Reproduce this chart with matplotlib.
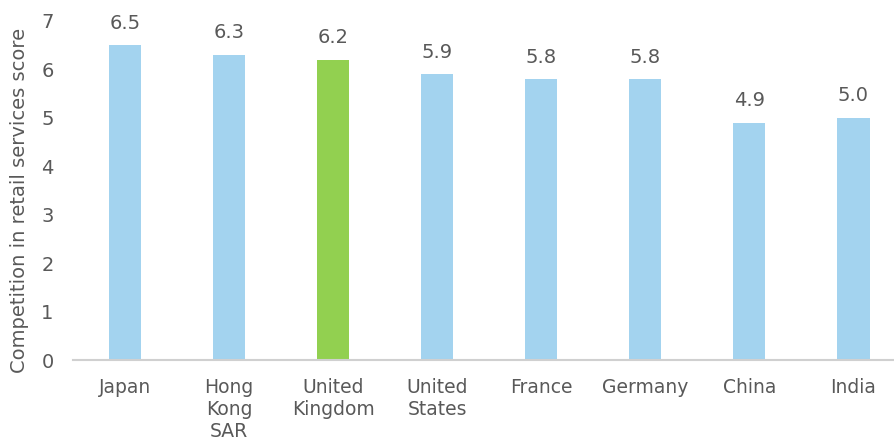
import matplotlib
matplotlib.use("Agg")
import matplotlib.pyplot as plt

categories = ["Japan", "Hong\nKong\nSAR", "United\nKingdom", "United\nStates", "France", "Germany", "China", "India"]
values = [6.5, 6.3, 6.2, 5.9, 5.8, 5.8, 4.9, 5.0]
highlight = "United\nKingdom"

blue = "#A3D3EF"
green = "#92D050"
text_col = "#595959"

fam = ["DejaVu Sans"]
plt.rcParams['font.family'] = fam
fig = plt.figure(figsize=(8.95, 4.45), dpi=100)
ax = fig.add_axes([0.0816, 0.191, 0.9184, 0.762])

colors = [green if c == highlight else blue for c in categories]
x = list(range(len(categories)))
ax.bar(x, values, width=0.31, color=colors)
for xi, v in zip(x, values):
    ax.annotate(f"{v:.1f}", (xi, v), xytext=(0, 9), textcoords="offset points",
                ha="center", va="bottom", fontsize=14, color=text_col)

ax.set_xlim(-0.5, 7.4)
ax.set_ylim(0, 7)
ax.set_yticks(range(0, 8))
ax.set_xticks(x)
ax.set_xticklabels(categories, fontsize=13.5, color=text_col, linespacing=1.2, va="top")
ax.tick_params(axis='y', labelsize=14, labelcolor=text_col, length=0, pad=14)
ax.tick_params(axis='x', length=0, pad=13)
for s in ["top", "right", "left"]:
    ax.spines[s].set_visible(False)
ax.spines["bottom"].set_color("#D0D0D0")
ax.spines["bottom"].set_linewidth(1.5)
ax.set_ylabel("Competition in retail services score", fontsize=14, color=text_col)
ax.yaxis.set_label_coords(-0.054, 0.47)

fig.savefig("out.png", dpi=100)
